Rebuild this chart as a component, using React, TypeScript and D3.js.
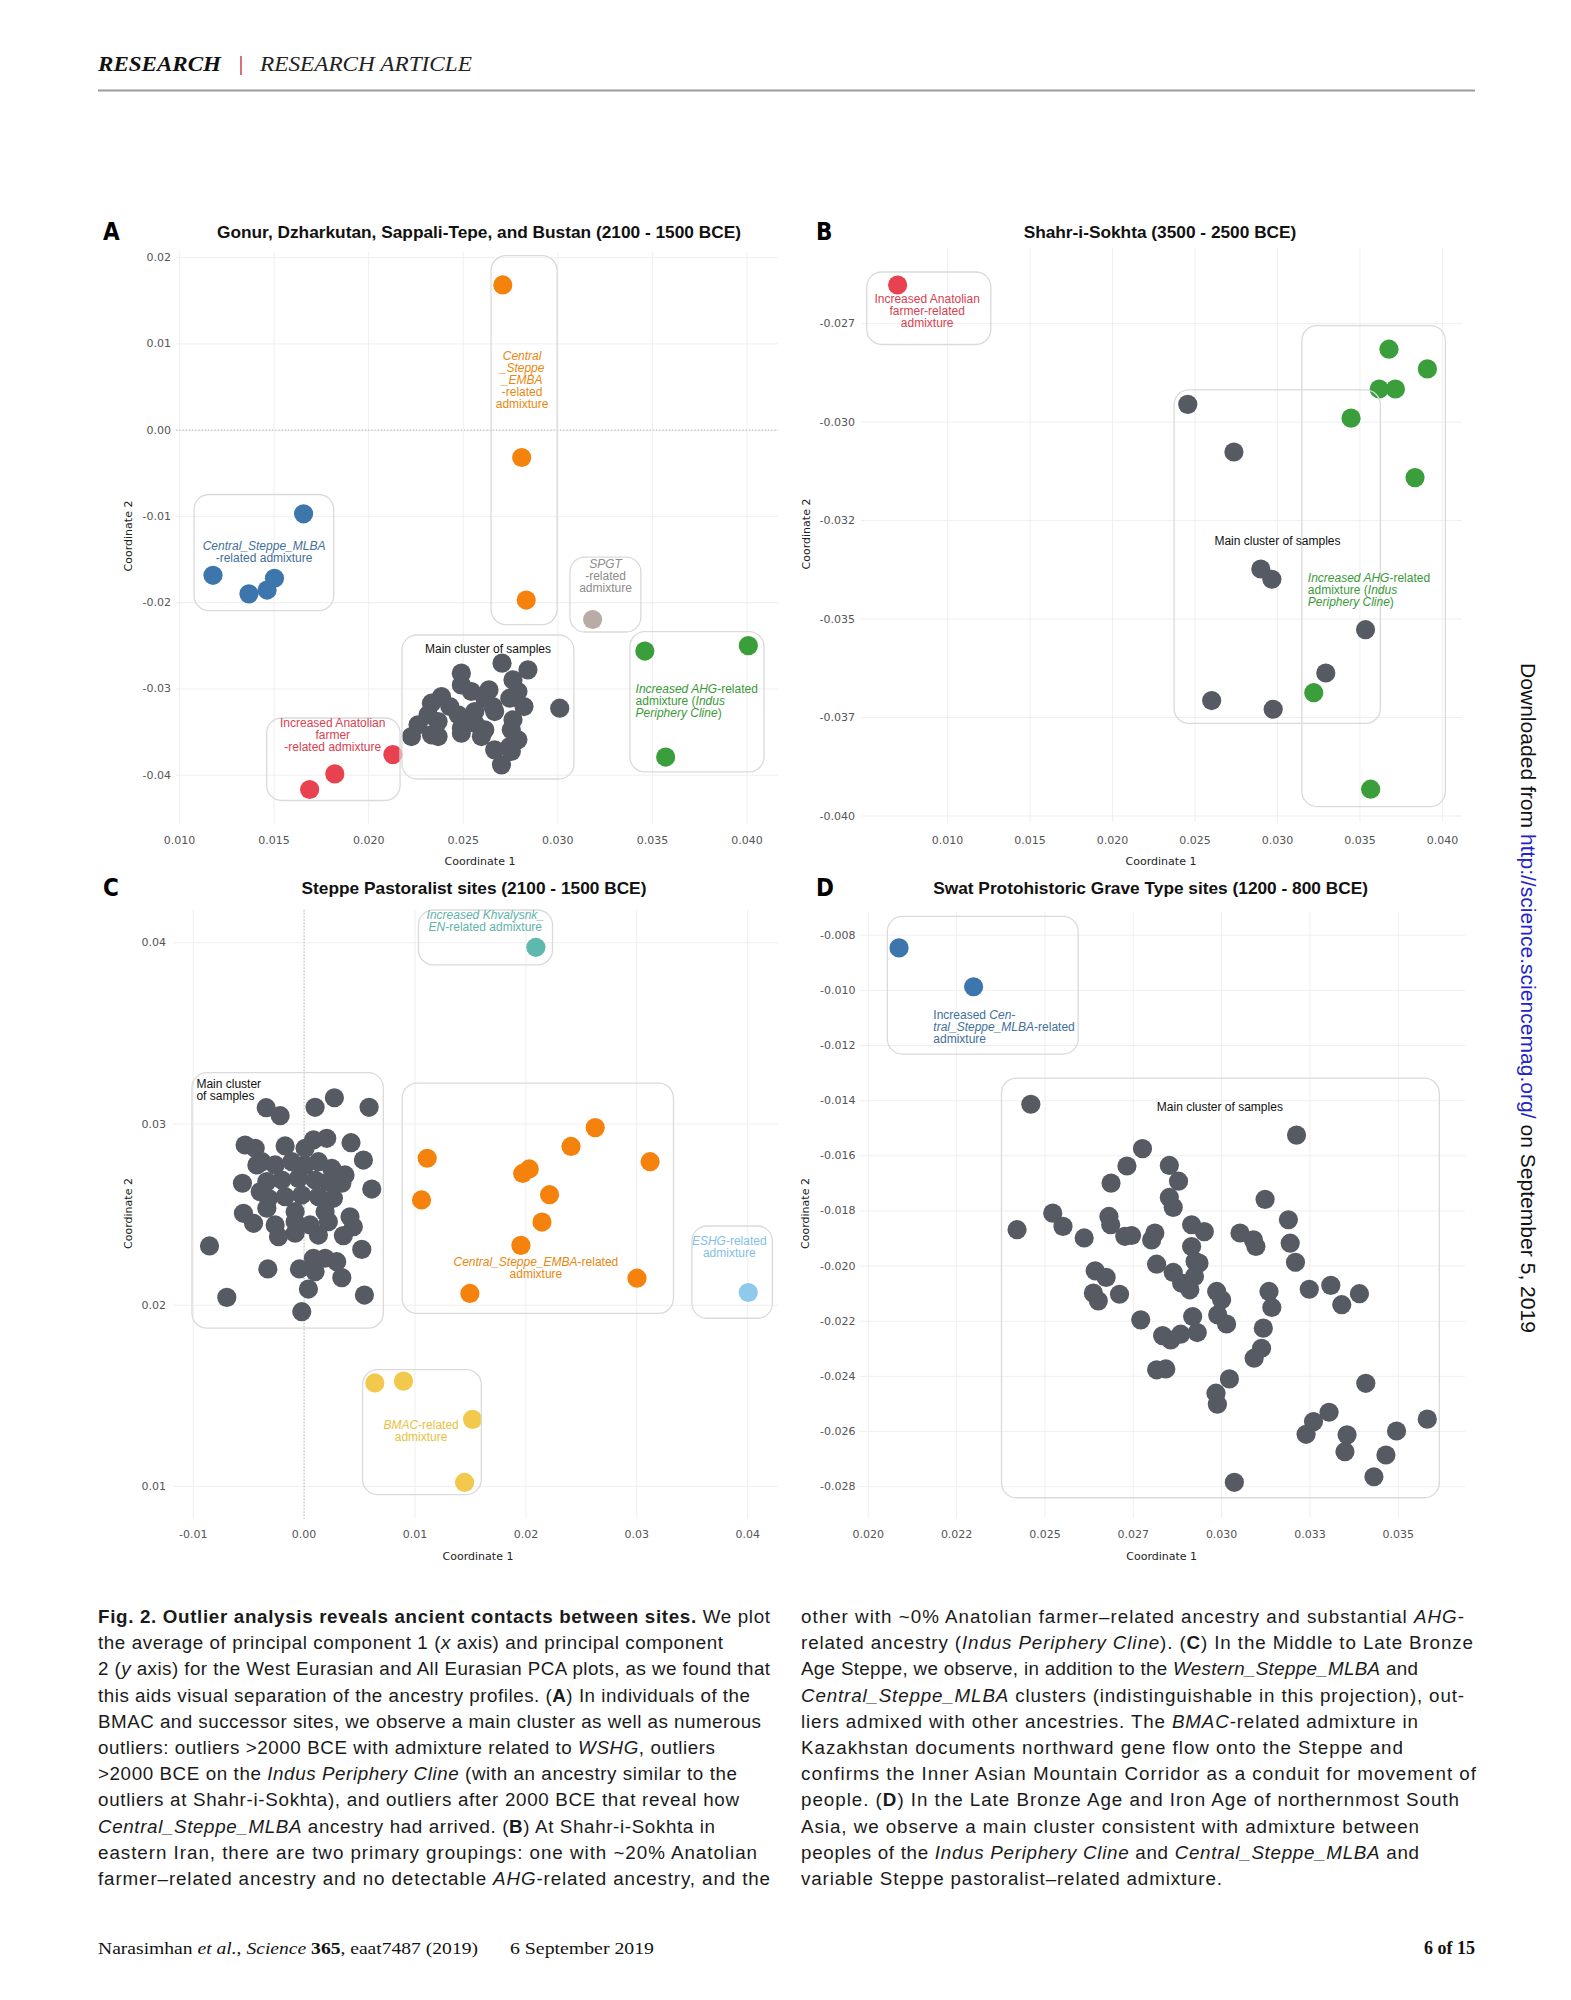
import React from "react";
import * as d3 from "d3";

type Pt = [number, number];
type Seg = [string, string];
type Box = [number, number, number, number];
type Label = { x: number; y: number; anchor: string; color: string; lines: Seg[][] };

// ---------------- Panel A: Gonur, Dzharkutan, Sappali-Tepe, and Bustan ----------------
const aTicksX = [0.01, 0.015, 0.02, 0.025, 0.03, 0.035, 0.04];
const aTicksY = [0.02, 0.01, 0.0, -0.01, -0.02, -0.03, -0.04];
const aMain: Pt[] = [
  [0.02705, -0.02701], [0.02842, -0.02779], [0.0249, -0.02817], [0.02763, -0.02895], [0.0249, -0.02953],
  [0.02543, -0.0303], [0.02636, -0.03011], [0.02789, -0.0303], [0.02746, -0.03107], [0.02614, -0.03107],
  [0.02821, -0.03204], [0.02385, -0.03088], [0.02332, -0.03165], [0.02657, -0.03204], [0.02666, -0.03262],
  [0.0301, -0.03223], [0.02473, -0.033], [0.02314, -0.033], [0.02561, -0.03262], [0.02763, -0.03358],
  [0.02261, -0.03416], [0.02367, -0.03378], [0.0249, -0.03454], [0.02614, -0.03474], [0.02226, -0.03552],
  [0.02332, -0.03532], [0.0249, -0.03512], [0.02754, -0.03474], [0.02789, -0.0359], [0.02367, -0.03552],
  [0.02596, -0.03552], [0.02666, -0.03706], [0.02746, -0.03668], [0.02702, -0.0388], [0.02754, -0.03725],
  [0.02561, -0.03397], [0.02429, -0.03204], [0.02525, -0.03378],
];
const aSteppeEMBA: Pt[] = [[0.02709, 0.01683], [0.02809, -0.00317], [0.02833, -0.0197]];
const aSteppeMLBA: Pt[] = [[0.01656, -0.0097], [0.01177, -0.01683], [0.01367, -0.01898], [0.01463, -0.01854], [0.01502, -0.01717]];
const aSPGT: Pt[] = [[0.03184, -0.02195]];
const aAHG: Pt[] = [[0.0346, -0.02561], [0.04007, -0.02498], [0.0357, -0.0379]];
const aAnatolian: Pt[] = [[0.01688, -0.04166], [0.01821, -0.03985], [0.02128, -0.03761]];
const aBoxes: Box[] = [
  [0.01077, 0.01815, -0.00746, -0.02093],
  [0.02647, 0.02996, 0.02024, -0.02254],
  [0.03064, 0.03439, -0.01471, -0.0234],
  [0.03381, 0.0409, -0.02336, -0.03962],
  [0.01461, 0.02166, -0.03337, -0.04293],
  [0.02176, 0.03085, -0.02375, -0.04044],
];
const aLabels: Label[] = [
  { x: 0.02811, y: 0.00859, anchor: "middle", color: "#e8870f", lines: [[["Central", "i"]], [["_Steppe", "i"]], [["_EMBA", "i"]], [["-related", ""]], [["admixture", ""]]] },
  { x: 0.01447, y: -0.01343, anchor: "middle", color: "#3f6f9c", lines: [[["Central_Steppe_MLBA", "i"]], [["-related admixture", ""]]] },
  { x: 0.03252, y: -0.01546, anchor: "middle", color: "#8c8c8c", lines: [[["SPGT", "i"]], [["-related", ""]], [["admixture", ""]]] },
  { x: 0.02631, y: -0.02537, anchor: "middle", color: "#111111", lines: [[["Main cluster of samples", ""]]] },
  { x: 0.03411, y: -0.02995, anchor: "start", color: "#3a9a3a", lines: [[["Increased AHG", "i"], ["-related", ""]], [["admixture (", ""], ["Indus", "i"]], [["Periphery Cline", "i"], [")", ""]]] },
  { x: 0.0181, y: -0.034, anchor: "middle", color: "#d9414f", lines: [[["Increased Anatolian", ""]], [["farmer", ""]], [["-related admixture", ""]]] },
];

// ---------------- Panel B: Shahr-i-Sokhta ----------------
const bTicksX = [0.01, 0.015, 0.02, 0.025, 0.03, 0.035, 0.04];
const bTicksY = [-0.0275, -0.03, -0.0325, -0.035, -0.0375, -0.04];
const bTickLabelsY = ["-0.027", "-0.030", "-0.032", "-0.035", "-0.037", "-0.040"];
const bMain: Pt[] = [
  [0.02456, -0.02955], [0.02736, -0.03076], [0.02899, -0.03373], [0.02966, -0.03399],
  [0.03534, -0.03527], [0.03293, -0.03637], [0.02601, -0.03707], [0.02974, -0.03729],
];
const bAHG: Pt[] = [
  [0.03676, -0.02815], [0.03909, -0.02865], [0.03617, -0.02916], [0.03715, -0.02916],
  [0.03446, -0.0299], [0.03834, -0.03141], [0.0322, -0.03687], [0.03565, -0.03932],
];
const bAnatolian: Pt[] = [[0.00697, -0.02652]];
const bBoxes: Box[] = [
  [0.0051, 0.01262, -0.02619, -0.02803],
  [0.02373, 0.03624, -0.02918, -0.03765],
  [0.03148, 0.04018, -0.02755, -0.03976],
];
const bLabels: Label[] = [
  { x: 0.00876, y: -0.02688, anchor: "middle", color: "#d9414f", lines: [[["Increased Anatolian", ""]], [["farmer-related", ""]], [["admixture", ""]]] },
  { x: 0.03, y: -0.03302, anchor: "middle", color: "#111111", lines: [[["Main cluster of samples", ""]]] },
  { x: 0.03184, y: -0.03396, anchor: "start", color: "#3a9a3a", lines: [[["Increased AHG", "i"], ["-related", ""]], [["admixture (", ""], ["Indus", "i"]], [["Periphery Cline", "i"], [")", ""]]] },
];

// ---------------- Panel C: Steppe Pastoralist sites ----------------
const cTicksX = [-0.01, 0.0, 0.01, 0.02, 0.03, 0.04];
const cTicksY = [0.01, 0.02, 0.03, 0.04];
const cMain: Pt[] = [
  [-0.00342, 0.0309], [-0.00216, 0.03046], [0.00099, 0.03092], [0.00273, 0.03145], [0.00586, 0.03092],
  [-0.00532, 0.02884], [-0.00441, 0.02866], [-0.00171, 0.02879], [0.00084, 0.02912], [0.00204, 0.02921], [0.00423, 0.02897],
  [0.00535, 0.02801], [0.0061, 0.02641], [-0.00556, 0.02673], [-0.00547, 0.02507], [-0.00456, 0.02452], [0.00414, 0.02488], [0.00444, 0.02433],
  [-0.00853, 0.02327], [0.0052, 0.02308], [-0.00327, 0.022], [-0.00042, 0.022], [0.00084, 0.02259], [0.00189, 0.02259], [0.00294, 0.0224],
  [0.0034, 0.02152], [0.00039, 0.02089], [-0.00697, 0.02043], [0.00544, 0.02056], [-0.00021, 0.01964], [0.00099, 0.02185],
  [-0.00381, 0.02792], [-0.00261, 0.02774], [-0.00111, 0.02792], [0.00009, 0.02774], [0.00129, 0.02792], [0.00249, 0.02755], [0.00369, 0.02719],
  [-0.00336, 0.02682], [-0.00201, 0.02691], [-0.00051, 0.027], [0.00099, 0.02691], [0.00219, 0.02682], [0.0034, 0.02673],
  [-0.00321, 0.0259], [-0.00171, 0.02599], [-0.00021, 0.02608], [0.00129, 0.02599], [0.00264, 0.0259],
  [-0.00336, 0.02535], [-0.00081, 0.02516], [0.00189, 0.02516],
  [-0.00261, 0.02443], [-0.00081, 0.02461], [0.00054, 0.02443], [0.00219, 0.02461],
  [-0.00231, 0.02378], [-0.00081, 0.02397], [0.00129, 0.02387], [0.00354, 0.02384],
  [-0.00426, 0.02774], [-0.00396, 0.02626], [0.00009, 0.02866],
];
const cSteppeEMBA: Pt[] = [
  [0.0111, 0.02811], [0.01059, 0.02581], [0.02625, 0.0298], [0.02407, 0.02876], [0.0312, 0.02792], [0.01971, 0.02727],
  [0.0203, 0.02752], [0.02213, 0.0261], [0.02145, 0.02459], [0.01955, 0.0233], [0.03002, 0.02149], [0.01495, 0.02065],
];
const cKhvalynsk: Pt[] = [[0.0209, 0.03975]];
const cESHG: Pt[] = [[0.04005, 0.0207]];
const cBMAC: Pt[] = [[0.00638, 0.01571], [0.00896, 0.01581], [0.01519, 0.0137], [0.01447, 0.01022]];
const cBoxes: Box[] = [
  [0.01031, 0.0224, 0.04181, 0.03878],
  [-0.01011, 0.00714, 0.03283, 0.01873],
  [0.00884, 0.03331, 0.03226, 0.01955],
  [0.03497, 0.04223, 0.02437, 0.01928],
  [0.00527, 0.01598, 0.01645, 0.00955],
];
const cLabels: Label[] = [
  { x: 0.01634, y: 0.04151, anchor: "middle", color: "#5fb3ab", lines: [[["Increased Khvalysnk_", "i"]], [["EN", "i"], ["-related admixture", ""]]] },
  { x: -0.00971, y: 0.03223, anchor: "start", color: "#111111", lines: [[["Main cluster", ""]], [["of samples", ""]]] },
  { x: 0.0209, y: 0.02236, anchor: "middle", color: "#e8870f", lines: [[["Central_Steppe_EMBA", "i"], ["-related", ""]], [["admixture", ""]]] },
  { x: 0.03834, y: 0.02355, anchor: "middle", color: "#84c0e6", lines: [[["ESHG", "i"], ["-related", ""]], [["admixture", ""]]] },
  { x: 0.01055, y: 0.0134, anchor: "middle", color: "#e9c13e", lines: [[["BMAC", "i"], ["-related", ""]], [["admixture", ""]]] },
];

// ---------------- Panel D: Swat Protohistoric Grave Type sites ----------------
const dTicksX = [0.02, 0.0225, 0.025, 0.0275, 0.03, 0.0325, 0.035];
const dTickLabelsX = ["0.020", "0.022", "0.025", "0.027", "0.030", "0.033", "0.035"];
const dTicksY = [-0.008, -0.01, -0.012, -0.014, -0.016, -0.018, -0.02, -0.022, -0.024, -0.026, -0.028];
const dMain: Pt[] = [
  [0.0246, -0.01413], [0.03212, -0.01525], [0.02776, -0.01574], [0.02732, -0.01637], [0.02687, -0.01699],
  [0.02852, -0.01635], [0.02878, -0.01692], [0.02852, -0.01751], [0.02863, -0.01787], [0.03123, -0.01758],
  [0.02522, -0.01808], [0.02551, -0.01856], [0.02421, -0.01868], [0.02611, -0.01898], [0.02681, -0.0182],
  [0.02686, -0.0185], [0.02726, -0.01892], [0.02745, -0.01889], [0.02811, -0.0188], [0.02802, -0.01905],
  [0.02915, -0.0185], [0.02951, -0.01875], [0.02915, -0.01929], [0.02925, -0.01983], [0.02816, -0.01993],
  [0.02863, -0.02023], [0.02936, -0.01989], [0.02887, -0.02062], [0.0291, -0.02086], [0.02923, -0.02038],
  [0.03052, -0.0188], [0.0309, -0.01905], [0.03097, -0.01929], [0.03189, -0.01832], [0.03194, -0.01917],
  [0.03209, -0.01986], [0.02642, -0.02017], [0.02673, -0.02041], [0.02637, -0.02098], [0.02651, -0.02126],
  [0.02711, -0.02102], [0.02771, -0.02195], [0.02986, -0.02092], [0.03, -0.02122], [0.02989, -0.02177],
  [0.03014, -0.0221], [0.03134, -0.02092], [0.03142, -0.0215], [0.03248, -0.02084], [0.03309, -0.0207],
  [0.0334, -0.0214], [0.0339, -0.021], [0.02918, -0.02183], [0.02931, -0.02241], [0.02833, -0.02252],
  [0.02856, -0.02268], [0.02884, -0.02247], [0.03118, -0.02225], [0.03113, -0.02298], [0.03092, -0.02334],
  [0.02816, -0.02376], [0.02842, -0.02373], [0.03022, -0.02409], [0.02984, -0.02461], [0.02988, -0.02501],
  [0.03408, -0.02425], [0.03304, -0.0253], [0.0326, -0.02564], [0.03239, -0.0261], [0.03355, -0.02612],
  [0.03349, -0.02673], [0.03495, -0.02598], [0.03582, -0.02555], [0.03465, -0.02685], [0.03431, -0.02764],
  [0.03036, -0.02784],
];
const dSteppeMLBA: Pt[] = [[0.02087, -0.00846], [0.02298, -0.00987]];
const dBoxes: Box[] = [
  [0.02054, 0.02594, -0.00732, -0.01231],
  [0.02377, 0.03616, -0.01318, -0.0284],
];
const dLabels: Label[] = [
  { x: 0.02995, y: -0.01423, anchor: "middle", color: "#111111", lines: [[["Main cluster of samples", ""]]] },
  { x: 0.02184, y: -0.0109, anchor: "start", color: "#3f6f9c", lines: [[["Increased ", ""], ["Cen-", "i"]], [["tral_Steppe_MLBA", "i"], ["-related", ""]], [["admixture", ""]]] },
];

// ---------------- Caption ----------------
const captionLeft: Seg[][] = [
  [["Fig. 2. Outlier analysis reveals ancient contacts between sites.", "b"], [" We plot", ""]],
  [["the average of principal component 1 (", ""], ["x", "i"], [" axis) and principal component", ""]],
  [["2 (", ""], ["y", "i"], [" axis) for the West Eurasian and All Eurasian PCA plots, as we found that", ""]],
  [["this aids visual separation of the ancestry profiles. (", ""], ["A", "b"], [") In individuals of the", ""]],
  [["BMAC and successor sites, we observe a main cluster as well as numerous", ""]],
  [["outliers: outliers >2000 BCE with admixture related to ", ""], ["WSHG", "i"], [", outliers", ""]],
  [[">2000 BCE on the ", ""], ["Indus Periphery Cline", "i"], [" (with an ancestry similar to the", ""]],
  [["outliers at Shahr-i-Sokhta), and outliers after 2000 BCE that reveal how", ""]],
  [["Central_Steppe_MLBA", "i"], [" ancestry had arrived. (", ""], ["B", "b"], [") At Shahr-i-Sokhta in", ""]],
  [["eastern Iran, there are two primary groupings: one with ~20% Anatolian", ""]],
  [["farmer\u2013related ancestry and no detectable ", ""], ["AHG", "i"], ["-related ancestry, and the", ""]],
];
const captionRight: Seg[][] = [
  [["other with ~0% Anatolian farmer\u2013related ancestry and substantial ", ""], ["AHG", "i"], ["-", ""]],
  [["related ancestry (", ""], ["Indus Periphery Cline", "i"], ["). (", ""], ["C", "b"], [") In the Middle to Late Bronze", ""]],
  [["Age Steppe, we observe, in addition to the ", ""], ["Western_Steppe_MLBA", "i"], [" and", ""]],
  [["Central_Steppe_MLBA", "i"], [" clusters (indistinguishable in this projection), out-", ""]],
  [["liers admixed with other ancestries. The ", ""], ["BMAC", "i"], ["-related admixture in", ""]],
  [["Kazakhstan documents northward gene flow onto the Steppe and", ""]],
  [["confirms the Inner Asian Mountain Corridor as a conduit for movement of", ""]],
  [["people. (", ""], ["D", "b"], [") In the Late Bronze Age and Iron Age of northernmost South", ""]],
  [["Asia, we observe a main cluster consistent with admixture between", ""]],
  [["peoples of the ", ""], ["Indus Periphery Cline", "i"], [" and ", ""], ["Central_Steppe_MLBA", "i"], [" and", ""]],
  [["variable Steppe pastoralist\u2013related admixture.", ""]],
];
// measured line lengths (layout) of the caption lines, px
const captionLeftW = [672, 625, 672, 652, 663, 617, 639, 641, 617, 659, 672];
const captionRightW = [663, 672, 617, 663, 617, 602, 675, 658, 618, 618, 421];

// ---------------- Colors ----------------
const C_MAIN = "#565a63";
const C_ORANGE = "#f5820d";
const C_BLUE = "#3d75ad";
const C_GREEN = "#3a9e3a";
const C_RED = "#e8414f";
const C_SPGT = "#b9aba6";
const C_TEAL = "#5eb8ae";
const C_LBLUE = "#8fc9ec";
const C_YELLOW = "#f2c94c";

const SANS = "'Liberation Sans', Arial, sans-serif";
const TICKF = "'DejaVu Sans', sans-serif";
const SERIF = "'Liberation Serif', 'Times New Roman', serif";

type Group = { pts: Pt[]; color: string };
type PanelCfg = {
  letter: string;
  title: string;
  titleX: number;
  titleY: number;
  letterX: number;
  plot: { l: number; r: number; t: number; b: number };
  xRef: [number, number];
  xPx: [number, number];
  yRef: [number, number];
  yPx: [number, number];
  ticksX: number[];
  labelsX: string[];
  ticksY: number[];
  labelsY: string[];
  yLabelX: number;
  xLabelY: number;
  xTitle: [number, number];
  yTitle: [number, number];
  zeroH?: boolean;
  zeroV?: boolean;
  groups: Group[];
  boxes: Box[];
  labels: Label[];
};

function segs(list: Seg[]) {
  return list.map((s, k) => (
    <tspan key={k} fontStyle={s[1] === "i" ? "italic" : "normal"} fontWeight={s[1] === "b" ? "bold" : "normal"}>
      {s[0]}
    </tspan>
  ));
}

function Panel({ cfg }: { cfg: PanelCfg }) {
  const x = d3.scaleLinear().domain(cfg.xRef).range(cfg.xPx);
  const y = d3.scaleLinear().domain(cfg.yRef).range(cfg.yPx);
  const p = cfg.plot;
  return (
    <g>
      <text x={cfg.letterX} y={cfg.titleY} dominantBaseline="central" fontFamily="'Liberation Sans Narrow', 'DejaVu Sans Condensed', sans-serif" fontWeight="bold" fontSize={24} fill="#000">
        {cfg.letter}
      </text>
      <text x={cfg.titleX} y={cfg.titleY} dominantBaseline="central" textAnchor="middle" fontFamily={SANS} fontWeight="bold" fontSize={17.3} fill="#111">
        {cfg.title}
      </text>
      {cfg.ticksX.map((t, i) => (
        <line key={"gx" + i} x1={x(t)} x2={x(t)} y1={p.t} y2={p.b} stroke="#ededed" strokeWidth={0.9} />
      ))}
      {cfg.ticksY.map((t, i) => (
        <line key={"gy" + i} x1={p.l} x2={p.r} y1={y(t)} y2={y(t)} stroke="#ededed" strokeWidth={0.9} />
      ))}
      {cfg.zeroH && <line x1={p.l} x2={p.r} y1={y(0)} y2={y(0)} stroke="#b5b5b5" strokeWidth={1} strokeDasharray="1.2,2" />}
      {cfg.zeroV && <line x1={x(0)} x2={x(0)} y1={p.t} y2={p.b} stroke="#b5b5b5" strokeWidth={1} strokeDasharray="1.2,2" />}
      {cfg.ticksX.map((t, i) => (
        <text key={"tx" + i} x={x(t)} y={cfg.xLabelY} textAnchor="middle" dominantBaseline="central" fontFamily={TICKF} fontSize={11} fill="#555">
          {cfg.labelsX[i]}
        </text>
      ))}
      {cfg.ticksY.map((t, i) => (
        <text key={"ty" + i} x={cfg.yLabelX} y={y(t)} textAnchor="end" dominantBaseline="central" fontFamily={TICKF} fontSize={11} fill="#555">
          {cfg.labelsY[i]}
        </text>
      ))}
      <text x={cfg.xTitle[0]} y={cfg.xTitle[1]} textAnchor="middle" dominantBaseline="central" fontFamily={TICKF} fontSize={11} fill="#222">
        Coordinate 1
      </text>
      <text transform={`translate(${cfg.yTitle[0]},${cfg.yTitle[1]}) rotate(-90)`} textAnchor="middle" dominantBaseline="central" fontFamily={TICKF} fontSize={11} fill="#222">
        Coordinate 2
      </text>
      {cfg.groups.map((g, gi) => (
        <g key={"g" + gi}>
          {g.pts.map((d, i) => (
            <circle key={i} cx={x(d[0])} cy={y(d[1])} r={9.6} fill={g.color} />
          ))}
        </g>
      ))}
      {cfg.boxes.map((b, i) => {
        const x0 = x(b[0]);
        const x1 = x(b[1]);
        const y0 = y(b[2]);
        const y1 = y(b[3]);
        return (
          <rect key={"b" + i} x={Math.min(x0, x1)} y={Math.min(y0, y1)} width={Math.abs(x1 - x0)} height={Math.abs(y1 - y0)} rx={15} ry={15} fill="none" stroke="#dadada" strokeWidth={1.3} />
        );
      })}
      {cfg.labels.map((lb, i) => (
        <g key={"l" + i}>
          {lb.lines.map((ln, j) => (
            <text key={j} x={x(lb.x)} y={y(lb.y) + j * 12} textAnchor={lb.anchor as any} dominantBaseline="central" fontFamily={SANS} fontSize={12} fill={lb.color}>
              {segs(ln)}
            </text>
          ))}
        </g>
      ))}
    </g>
  );
}

const fmt = (k: number) => (v: number) => v.toFixed(k);

const panels: PanelCfg[] = [
  {
    letter: "A", title: "Gonur, Dzharkutan, Sappali-Tepe, and Bustan (2100 - 1500 BCE)", titleX: 479, titleY: 232, letterX: 103,
    plot: { l: 176, r: 778, t: 252, b: 824 }, xRef: [0.01, 0.04], xPx: [179.5, 747], yRef: [0.02, -0.04], yPx: [257.6, 775.2],
    ticksX: aTicksX, labelsX: aTicksX.map(fmt(3)), ticksY: aTicksY, labelsY: aTicksY.map(fmt(2)), yLabelX: 171, xLabelY: 840,
    xTitle: [480, 861], yTitle: [128, 536], zeroH: true,
    groups: [
      { pts: aMain, color: C_MAIN }, { pts: aSteppeEMBA, color: C_ORANGE }, { pts: aSteppeMLBA, color: C_BLUE },
      { pts: aSPGT, color: C_SPGT }, { pts: aAHG, color: C_GREEN }, { pts: aAnatolian, color: C_RED },
    ],
    boxes: aBoxes, labels: aLabels,
  },
  {
    letter: "B", title: "Shahr-i-Sokhta (3500 - 2500 BCE)", titleX: 1160, titleY: 232, letterX: 816,
    plot: { l: 861, r: 1462, t: 248, b: 822 }, xRef: [0.01, 0.04], xPx: [947.6, 1442.4], yRef: [-0.0275, -0.04], yPx: [323.6, 816],
    ticksX: bTicksX, labelsX: bTicksX.map(fmt(3)), ticksY: bTicksY, labelsY: bTickLabelsY, yLabelX: 855, xLabelY: 840,
    xTitle: [1161, 861], yTitle: [806, 534],
    groups: [{ pts: bMain, color: C_MAIN }, { pts: bAHG, color: C_GREEN }, { pts: bAnatolian, color: C_RED }],
    boxes: bBoxes, labels: bLabels,
  },
  {
    letter: "C", title: "Steppe Pastoralist sites (2100 - 1500 BCE)", titleX: 474, titleY: 888, letterX: 103,
    plot: { l: 173, r: 778, t: 910, b: 1519 }, xRef: [0, 0.04], xPx: [304.1, 747.7], yRef: [0.04, 0.01], yPx: [942.8, 1486.4],
    ticksX: cTicksX, labelsX: cTicksX.map(fmt(2)), ticksY: cTicksY, labelsY: cTicksY.map(fmt(2)), yLabelX: 166, xLabelY: 1534,
    xTitle: [478, 1556.5], yTitle: [128, 1213.5], zeroV: true,
    groups: [
      { pts: cMain, color: C_MAIN }, { pts: cSteppeEMBA, color: C_ORANGE }, { pts: cKhvalynsk, color: C_TEAL },
      { pts: cESHG, color: C_LBLUE }, { pts: cBMAC, color: C_YELLOW },
    ],
    boxes: cBoxes, labels: cLabels,
  },
  {
    letter: "D", title: "Swat Protohistoric Grave Type sites (1200 - 800 BCE)", titleX: 1150.6, titleY: 888, letterX: 816,
    plot: { l: 859, r: 1465, t: 912, b: 1518 }, xRef: [0.02, 0.035], xPx: [868.3, 1398.3], yRef: [-0.008, -0.028], yPx: [935.2, 1486.7],
    ticksX: dTicksX, labelsX: dTickLabelsX, ticksY: dTicksY, labelsY: dTicksY.map(fmt(3)), yLabelX: 855.5, xLabelY: 1534,
    xTitle: [1161.7, 1556.5], yTitle: [805.7, 1213.5],
    groups: [{ pts: dMain, color: C_MAIN }, { pts: dSteppeMLBA, color: C_BLUE }],
    boxes: dBoxes, labels: dLabels,
  },
];

export default function App() {
  const capY0 = 1623;
  const capStep = 26.2;
  return (
    <svg width={1571} height={2000} style={{ position: "absolute", left: 0, top: 0 }} xmlns="http://www.w3.org/2000/svg">
      <rect x={0} y={0} width={1571} height={2000} fill="#fff" />
      {/* header */}
      <text x={98} y={71} fontFamily={SERIF} fontStyle="italic" fontWeight="bold" fontSize={20} fill="#111" textLength={123} lengthAdjust="spacingAndGlyphs">
        RESEARCH
      </text>
      <line x1={241} x2={241} y1={56} y2={75} stroke="#c1272d" strokeWidth={1.3} />
      <text x={260} y={71} fontFamily={SERIF} fontStyle="italic" fontSize={20} fill="#222" textLength={212} lengthAdjust="spacingAndGlyphs">
        RESEARCH ARTICLE
      </text>
      <line x1={98} x2={1475} y1={90.5} y2={90.5} stroke="#9c9c9c" strokeWidth={2} />

      {panels.map((c, i) => (
        <Panel key={i} cfg={c} />
      ))}

      {/* caption */}
      {captionLeft.map((ln, i) => (
        <text key={"cl" + i} x={98} y={capY0 + i * capStep} fontFamily={SANS} fontSize={18.8} fill="#1a1a1a" textLength={captionLeftW[i]} lengthAdjust="spacing">
          {segs(ln)}
        </text>
      ))}
      {captionRight.map((ln, i) => (
        <text key={"cr" + i} x={801} y={capY0 + i * capStep} fontFamily={SANS} fontSize={18.8} fill="#1a1a1a" textLength={captionRightW[i]} lengthAdjust="spacing">
          {segs(ln)}
        </text>
      ))}

      {/* footer */}
      <text x={98} y={1954} fontFamily={SERIF} fontSize={17} fill="#111" textLength={380} lengthAdjust="spacingAndGlyphs">
        <tspan>Narasimhan </tspan>
        <tspan fontStyle="italic">et al.</tspan>
        <tspan>, </tspan>
        <tspan fontStyle="italic">Science</tspan>
        <tspan> </tspan>
        <tspan fontWeight="bold">365</tspan>
        <tspan>, eaat7487 (2019)</tspan>
      </text>
      <text x={510} y={1954} fontFamily={SERIF} fontSize={17} fill="#111" textLength={144} lengthAdjust="spacingAndGlyphs">
        6 September 2019
      </text>
      <text x={1475} y={1954} textAnchor="end" fontFamily={SERIF} fontWeight="bold" fontSize={18} fill="#111">
        6 of 15
      </text>

      {/* side note */}
      <text transform="translate(1521,663) rotate(90)" fontFamily={SANS} fontSize={20} fill="#111" textLength={670} lengthAdjust="spacingAndGlyphs">
        <tspan>Downloaded from </tspan>
        <tspan fill="#2323c8">http://science.sciencemag.org/</tspan>
        <tspan> on September 5, 2019</tspan>
      </text>
    </svg>
  );
}
